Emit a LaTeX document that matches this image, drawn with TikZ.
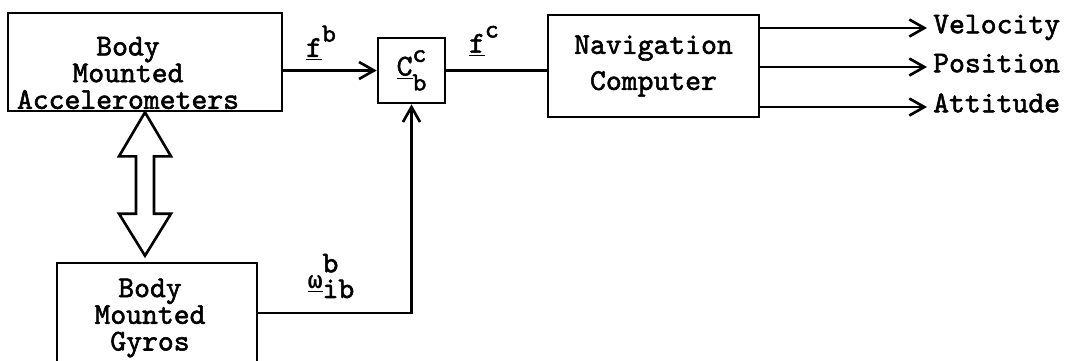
\documentclass[tikz,border=0pt]{standalone}
\usepackage{fontspec}
\setmonofont{lmmono10-regular.otf}[AutoFakeBold=1.8]
\newfontfamily\grkfont{Liberation Mono}
\usetikzlibrary{arrows.meta,positioning,calc}
\newcommand{\blkfont}{\fontsize{17.2}{15.2}\selectfont\ttfamily\bfseries}
\newcommand{\navfont}{\fontsize{17.2}{20.5}\selectfont\ttfamily\bfseries}
\newcommand{\supfont}{\fontsize{15}{15}\selectfont}
\newcommand{\sups}[1]{\raisebox{0.5em}{\supfont #1}}
\newcommand{\supsub}[3]{\underline{#1}\rlap{\raisebox{0.45em}{\supfont #2}}\raisebox{-0.5em}{\supfont #3}}

\begin{document}
\begin{tikzpicture}[x=0.02cm,y=-0.02cm,
    blk/.style={rectangle,draw,line width=1.5pt,inner sep=0pt,font=\blkfont,align=center},
    sig/.style={inner sep=1pt,font=\blkfont},
    outlbl/.style={anchor=west,font=\blkfont,text height=0.6em,text depth=0pt},
    ln/.style={line width=1.5pt},
    arr/.style={-{Straight Barb[length=3mm,width=3.4mm]},line width=1.5pt},
    dbl/.style={draw,line width=1.5pt,line join=miter},
]
\useasboundingbox (0,0) rectangle (1079,360);
\clip (0,0) rectangle (1079,360);

% Sensor blocks
\node[blk,minimum width=5.48cm,minimum height=1.96cm,
  label={[font=\blkfont,align=center,xshift=-0.34cm,yshift=-0.22cm]center:Body\\Mounted\\Accelerometers}] (acc) at (145,62) {};
\node[blk,minimum width=4cm,minimum height=2.24cm,
  label={[font=\blkfont,align=center,xshift=-0.14cm,yshift=0.02cm]center:Body\\Mounted\\Gyros}] (gyro) at (157,319) {};

% Transformation and computer
\node[blk,minimum width=1.34cm,minimum height=1.3cm] (cb) at (411.5,70.5) {\supsub{C}{c}{b}};
\node[blk,minimum width=4.22cm,minimum height=2.04cm,font=\navfont] (nav) at (653.5,66) {Navigation\\Computer};

% Outputs
\node[outlbl] (vel) at (927,28) {Velocity};
\node[outlbl] (pos) at (927,67) {Position};
\node[outlbl] (att) at (927,107) {Attitude};

% Signal labels
\node[sig] (fb) at (321,43) {\underline{f}\sups{b}};
\node[sig] (fc) at (484,41) {\underline{f}\sups{c}};
\node[sig] (wib) at (331,276) {\raisebox{0.3em}{\underline{\grkfont\fontsize{14}{14}\selectfont ω}}\rlap{\raisebox{0.85em}{b}}ib};

% Arrows
\draw[arr] (acc.east |- cb.west) -- (cb.west);
\draw[ln] (cb.east) -- (cb.east -| nav.west);
\draw[arr] ([yshift=0.12cm]gyro.east) -| (cb.south);
\foreach \o in {vel,pos,att}
  \draw[arr] (nav.east |- \o.west) -- (\o.west);

% Mounting link
\coordinate (dtop) at (acc.south);
\coordinate (dbot) at ($(gyro.north -| dtop)+(0,-6)$);
\draw[dbl] (dtop) -- ++(26,44) -- ++(-17,0) -- ($(dbot)+(9,-42)$) -- ++(17,0) -- (dbot)
  -- ++(-26,-42) -- ++(17,0) -- ($(dtop)+(-9,44)$) -- ++(-17,0) -- cycle;
\end{tikzpicture}
\end{document}
